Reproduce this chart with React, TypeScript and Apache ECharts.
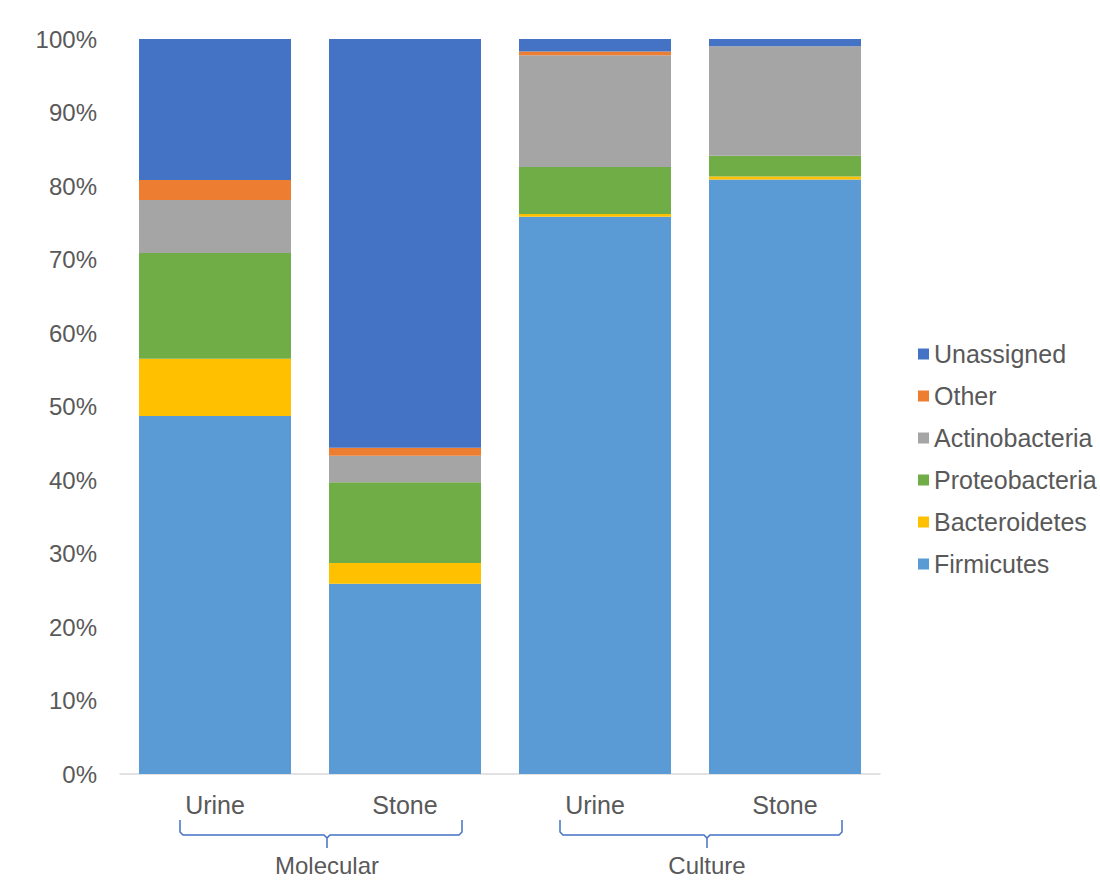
import React, { useEffect, useRef } from "react";
import * as echarts from "echarts";

const categories = ["Urine", "Stone", "Urine", "Stone"];
const groups = [
  { name: "Molecular", from: 0, to: 1 },
  { name: "Culture", from: 2, to: 3 },
];
const seriesNames = ["Firmicutes", "Bacteroidetes", "Proteobacteria", "Actinobacteria", "Other", "Unassigned"];
const firmicutes = [48.7, 25.9, 75.8, 80.9];
const bacteroidetes = [7.8, 2.8, 0.4, 0.4];
const proteobacteria = [14.4, 11.0, 6.4, 2.8];
const actinobacteria = [7.2, 3.6, 15.2, 14.9];
const other = [2.7, 1.1, 0.5, 0.0];
const unassigned = [19.2, 55.6, 1.7, 1.0];
const colors = ["#5B9BD5", "#FFC000", "#70AD47", "#A5A5A5", "#ED7D31", "#4472C4"];
const yTicks = [0, 10, 20, 30, 40, 50, 60, 70, 80, 90, 100];

export default function App() {
  const ref = useRef<HTMLDivElement>(null);
  useEffect(() => {
    if (!ref.current) return;
    const chart = echarts.init(ref.current, null, { renderer: "svg" });
    const values = [firmicutes, bacteroidetes, proteobacteria, actinobacteria, other, unassigned];
    const font = "'Liberation Sans', Arial, sans-serif";
    chart.setOption({
      animation: false,
      grid: { left: 120, right: 220, top: 39, bottom: 106 },
      legend: {
        orient: "vertical",
        left: 913,
        top: 334,
        itemWidth: 11,
        itemHeight: 11,
        itemGap: 12,
        icon: "rect",
        data: [...seriesNames].reverse(),
        textStyle: { fontFamily: font, fontSize: 25, color: "#595959", lineHeight: 30 },
      },
      xAxis: {
        type: "category",
        data: categories,
        axisLine: { lineStyle: { color: "#D9D9D9", width: 1.5 } },
        axisTick: { show: false },
        axisLabel: { fontFamily: font, fontSize: 25, color: "#595959", margin: 18 },
      },
      yAxis: {
        type: "value",
        min: yTicks[0],
        max: yTicks[yTicks.length - 1],
        interval: 10,
        axisLine: { show: false },
        axisTick: { show: false },
        splitLine: { show: false },
        axisLabel: { fontFamily: font, fontSize: 24, color: "#595959", margin: 23, formatter: "{value}%" },
      },
      series: seriesNames.map((name, i) => ({
        name,
        type: "bar",
        stack: "total",
        barCategoryGap: "20%",
        itemStyle: { color: colors[i] },
        data: values[i],
      })),
    });

    const graphics: any[] = [];
    groups.forEach((g) => {
      const x0 = chart.convertToPixel({ xAxisIndex: 0 }, g.from) as number;
      const x1 = chart.convertToPixel({ xAxisIndex: 0 }, g.to) as number;
      const left = x0 - 35;
      const right = x1 + 57;
      const mid = (left + right) / 2 + 6;
      const top = 820, hy = 835, bot = 848;
      const style = { stroke: "#4472C4", lineWidth: 1.5, fill: null };
      graphics.push({
        type: "polyline",
        shape: { points: [[left, top], [left, hy - 3], [left + 3, hy], [mid - 3, hy], [mid, hy + 3], [mid, bot]] },
        style,
        silent: true,
      });
      graphics.push({
        type: "polyline",
        shape: { points: [[right, top], [right, hy - 3], [right - 3, hy], [mid + 3, hy], [mid, hy + 3]] },
        style,
        silent: true,
      });
      graphics.push({
        type: "text",
        x: mid,
        y: 865,
        style: {
          text: g.name,
          fontFamily: font,
          fontSize: 24,
          fill: "#595959",
          textAlign: "center",
          textVerticalAlign: "middle",
        },
      });
    });
    chart.setOption({ graphic: graphics });
    return () => chart.dispose();
  }, []);
  return <div ref={ref} style={{ width: 1100, height: 880, position: "absolute", left: 0, top: 0 }} />;
}
